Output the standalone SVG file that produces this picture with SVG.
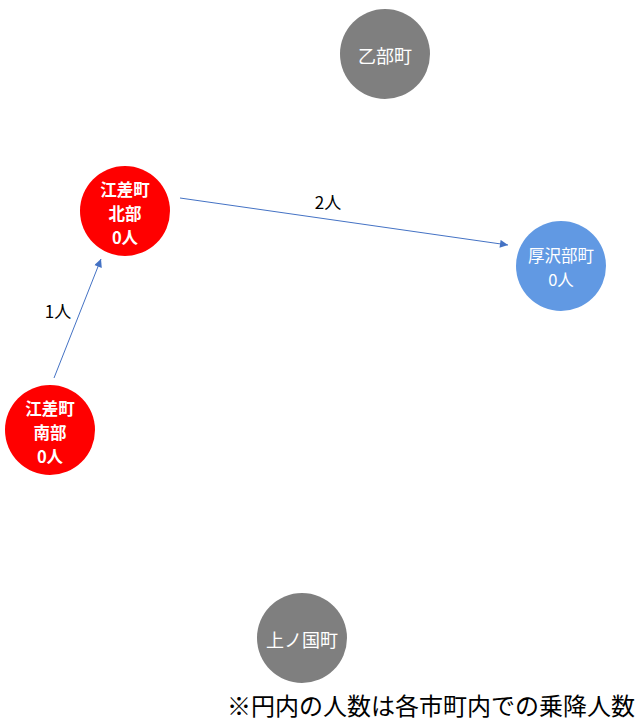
<svg xmlns="http://www.w3.org/2000/svg" width="636" height="720" viewBox="0 0 636 720">
<defs>
<marker id="arr" viewBox="0 0 10 10" refX="10" refY="5" markerWidth="10" markerHeight="8" markerUnits="userSpaceOnUse" orient="auto">
<path d="M0,0 L10,5 L0,10 z" fill="#4472C4"/>
</marker>
<style>
text{font-family:"Noto Sans CJK JP","Noto Sans",sans-serif;text-anchor:middle;dominant-baseline:central}
.n{font-size:16.5px;fill:#fff}
.g{font-size:18px}
.b{font-weight:bold}
.red{fill:#FF0000}
.gray{fill:#7F7F7F}
.blue{fill:#6199E3}
.e{stroke:#4472C4;stroke-width:1;fill:none;marker-end:url(#arr)}
.lbl{font-size:17px;fill:#000}
</style>
</defs>
<rect width="636" height="720" fill="#fff"/>
<g id="connectors">
<line class="e" x1="180" y1="198" x2="508" y2="245"/>
<text class="lbl" x="328" y="201">2人</text>
<line class="e" x1="54" y1="378" x2="101" y2="259"/>
<text class="lbl" x="58" y="310">1人</text>
</g>
<g id="otobe">
<circle class="gray" cx="385" cy="54" r="45"/>
<text class="n g" x="385" y="55">乙部町</text>
</g>
<g id="esashi-north">
<circle class="red" cx="125" cy="211" r="45"/>
<text class="n b" x="125" y="189">江差町</text>
<text class="n b" x="125" y="213">北部</text>
<text class="n b" x="125" y="237">0人</text>
</g>
<g id="assabu">
<circle class="blue" cx="561" cy="266" r="45"/>
<text class="n" x="561" y="255">厚沢部町</text>
<text class="n" x="561" y="279">0人</text>
</g>
<g id="esashi-south">
<circle class="red" cx="50" cy="430" r="45"/>
<text class="n b" x="50" y="408">江差町</text>
<text class="n b" x="50" y="432">南部</text>
<text class="n b" x="50" y="456">0人</text>
</g>
<g id="kaminokuni">
<circle class="gray" cx="302" cy="638" r="45"/>
<text class="n g" x="302" y="639">上ノ国町</text>
</g>
<text x="431" y="704" style="font-size:24px;fill:#000">※円内の人数は各市町内での乗降人数</text>
</svg>
